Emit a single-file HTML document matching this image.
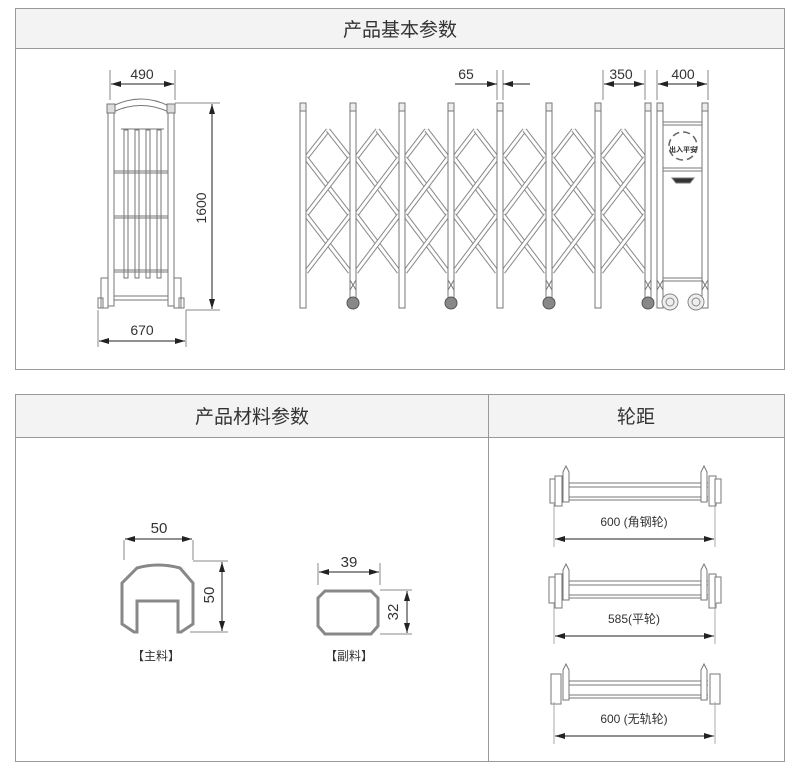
<!DOCTYPE html>
<html><head><meta charset="utf-8"><style>
html,body{margin:0;padding:0;background:#fff;width:800px;height:775px;overflow:hidden}
svg{display:block}
text{font-family:"Liberation Sans","Noto Sans CJK SC",sans-serif;fill:#333}
</style></head><body>
<svg id="s" width="800" height="775" viewBox="0 0 800 775" xmlns="http://www.w3.org/2000/svg">
<defs>
<marker id="a" viewBox="0 0 10 6" refX="10" refY="3" markerWidth="10" markerHeight="6" orient="auto-start-reverse" markerUnits="userSpaceOnUse"><path d="M0,0L10,3L0,6z" fill="#222"/></marker>
</defs>
<!-- top panel -->
<rect x="15.5" y="8.5" width="769" height="361" fill="#fff" stroke="#999"/>
<rect x="16" y="9" width="768" height="39" fill="#f3f3f3"/>
<line x1="15" y1="48.5" x2="785" y2="48.5" stroke="#999"/>
<text x="400" y="36" font-size="19" text-anchor="middle">产品基本参数</text>
<!-- bottom panel -->
<rect x="15.5" y="394.5" width="769" height="367" fill="#fff" stroke="#999"/>
<rect x="16" y="395" width="768" height="42" fill="#f3f3f3"/>
<line x1="15" y1="437.5" x2="785" y2="437.5" stroke="#999"/>
<line x1="488.5" y1="394" x2="488.5" y2="762" stroke="#999"/>
<text x="252" y="423" font-size="19" text-anchor="middle">产品材料参数</text>
<text x="636" y="423" font-size="19" text-anchor="middle">轮距</text>
<g id="g" fill="none" stroke="#777" stroke-width="1"></g>
<!-- dimension texts -->
<text x="142" y="79" font-size="14" text-anchor="middle">490</text>
<text x="142" y="335" font-size="14" text-anchor="middle">670</text>
<text x="206" y="208" font-size="14" text-anchor="middle" transform="rotate(-90 206 208)">1600</text>
<text x="466" y="79" font-size="14" text-anchor="middle">65</text>
<text x="621" y="79" font-size="14" text-anchor="middle">350</text>
<text x="683" y="79" font-size="14" text-anchor="middle">400</text>
<text x="683" y="152" font-size="7" font-weight="bold" text-anchor="middle">出入平安</text>
<text x="159" y="533" font-size="15" text-anchor="middle">50</text>
<text x="349" y="567" font-size="15" text-anchor="middle">39</text>
<text x="214" y="595" font-size="15" text-anchor="middle" transform="rotate(-90 214 595)">50</text>
<text x="398" y="612" font-size="15" text-anchor="middle" transform="rotate(-90 398 612)">32</text>
<text x="156" y="660" font-size="12" text-anchor="middle">【主料】</text>
<text x="349" y="660" font-size="12" text-anchor="middle">【副料】</text>
<text x="634" y="526" font-size="12" text-anchor="middle">600 (角钢轮)</text>
<text x="634" y="623" font-size="12" text-anchor="middle">585(平轮)</text>
<text x="634" y="723" font-size="12" text-anchor="middle">600 (无轨轮)</text>
</svg>
<script>
var g=document.getElementById('g'),o='';
function L(a,b,c,d,s){o+='<line x1="'+a+'" y1="'+b+'" x2="'+c+'" y2="'+d+'"'+(s?' '+s:'')+'/>';}
function R(x,y,w,h,s){o+='<rect x="'+x+'" y="'+y+'" width="'+w+'" height="'+h+'"'+(s?' '+s:'')+'/>';}
function C(x,y,r,s){o+='<circle cx="'+x+'" cy="'+y+'" r="'+r+'"'+(s?' '+s:'')+'/>';}
var A='marker-start="url(#a)" marker-end="url(#a)" stroke="#222"';
// left frame
R(108,106,6,200);R(168,106,6,200);
o+='<path d="M113,106 Q141,92 169,106 L169,112 Q141,99 113,112z"/>';
R(107,104,8,9,'fill="#ddd"');R(167,104,8,9,'fill="#ddd"');
[124,135,146,157].forEach(function(x){R(x,130,4,148);});
L(121,129,164,129);
[171,216,270].forEach(function(y){L(114,y,168,y);L(114,y+2,168,y+2);});
R(101,278,7,30);R(174,278,7,30);R(98,298,5,10);R(179,298,5,10);
L(114,296,168,296);L(114,300,168,300);
// dims left
L(110,70,110,100,'stroke="#888"');L(175,70,175,100,'stroke="#888"');
L(111,84,174,84,A);
L(175,103,220,103,'stroke="#888"');L(186,310,220,310,'stroke="#888"');
L(212,104,212,309,A);
L(98,310,98,347,'stroke="#888"');L(186,310,186,347,'stroke="#888"');
L(99,341,185,341,A);
// lattice
var P=[303,353,402,451,500,549,598,648];
for(var i=0;i<P.length-1;i++){var x0=P[i]+3,x1=P[i+1]-3,m=(x0+x1)/2;
 var segs=[[x0,158,m,130],[m,130,x1,158],[x0,158,x1,215],[x0,215,x1,158],[x0,215,x1,272],[x0,272,x1,215]];
 segs.forEach(function(s){L(s[0],s[1],s[2],s[3],'stroke="#888" stroke-width="5"');L(s[0],s[1],s[2],s[3],'stroke="#fff" stroke-width="3"');});}
P.forEach(function(x,i){R(x-3,104,6,204,'fill="#fff"');R(x-3,103,6,8,'fill="#eee"');
 if(i%2==1){L(x-3,280,x+3,290);L(x+3,280,x-3,290);C(x,303,6,'fill="#888" stroke="#555"');}});
// cart
[660,705].forEach(function(x){R(x-3,104,6,204,'fill="#fff"');R(x-3,103,6,8,'fill="#eee"');L(x-3,280,x+3,290);L(x+3,280,x-3,290);});
L(663,122,702,122);L(663,125,702,125);L(663,168,702,168);L(663,171,702,171);L(663,278,702,278);L(663,281,702,281);
C(683,146,14,'stroke="#666" stroke-dasharray="7 4" stroke-width="1.5"');
o+='<path d="M672,178 L694,178 L690,183 L676,183z" fill="#333"/>';
C(670,302,8,'fill="#eee" stroke="#888"');C(670,302,4,'stroke="#888"');
C(696,302,8,'fill="#eee" stroke="#888"');C(696,302,4,'stroke="#888"');
// dims right
L(497,70,497,100,'stroke="#888"');L(503,70,503,100,'stroke="#888"');
L(455,84,497,84,'marker-end="url(#a)" stroke="#222"');L(530,84,503,84,'marker-end="url(#a)" stroke="#222"');
L(603,70,603,100,'stroke="#888"');L(645,70,645,100,'stroke="#888"');L(604,84,644,84,A);
L(657,70,657,100,'stroke="#888"');L(708,70,708,100,'stroke="#888"');L(658,84,707,84,A);
// main profile
o+='<path d="M122,583 L137,568 Q158,562 180,568 L193,583 L193,624 L181,632 L178,632 L178,601 L137,601 L137,632 L134,632 L122,624z" stroke="#888" stroke-width="3" fill="#fff"/>';
L(124,540,124,560,'stroke="#888"');L(193,540,193,560,'stroke="#888"');L(125,539,192,539,A);
L(193,561,228,561,'stroke="#888"');L(190,632,228,632,'stroke="#888"');L(222,562,222,631,A);
// secondary profile
o+='<path d="M325,591 L371,591 L378,598 L378,626 L371,634 L325,634 L318,626 L318,598z" stroke="#888" stroke-width="3" fill="#fff"/>';
L(318,563,318,585,'stroke="#888"');L(380,563,380,585,'stroke="#888"');L(319,572,379,572,A);
L(380,590,412,590,'stroke="#888"');L(380,634,412,634,'stroke="#888"');L(407,591,407,633,A);
// wheelbase drawings
[[464,533],[562,630],[662,730]].forEach(function(v,k){var y=v[0],dy=v[1];
 var top=y;L(563,top+19,708,top+19);L(563,top+23,708,top+23);L(563,top+33,708,top+33);L(563,top+36,708,top+36);
 o+='<path d="M563,'+(top+38)+' L563,'+(top+8)+' L566,'+(top+2)+' L569,'+(top+8)+' L569,'+(top+38)+'z" fill="#fff"/>';
 o+='<path d="M701,'+(top+38)+' L701,'+(top+8)+' L704,'+(top+2)+' L707,'+(top+8)+' L707,'+(top+38)+'z" fill="#fff"/>';
 if(k==0){R(550,top+15,6,24,'fill="#fff"');R(555,top+12,7,30,'fill="#fff"');R(709,top+12,7,30,'fill="#fff"');R(715,top+15,6,24,'fill="#fff"');}
 else if(k==1){R(549,top+15,6,26,'fill="#fff"');R(555,top+12,7,34,'fill="#fff"');R(709,top+12,7,34,'fill="#fff"');R(715,top+15,6,26,'fill="#fff"');}
 else{R(551,top+12,10,30,'fill="#fff"');R(710,top+12,10,30,'fill="#fff"');}
 L(554,top+40,554,dy+14,'stroke="#aaa"');L(715,top+40,715,dy+14,'stroke="#aaa"');
 L(555,dy+6,714,dy+6,A);});
g.innerHTML=o;
</script>
</body></html>
